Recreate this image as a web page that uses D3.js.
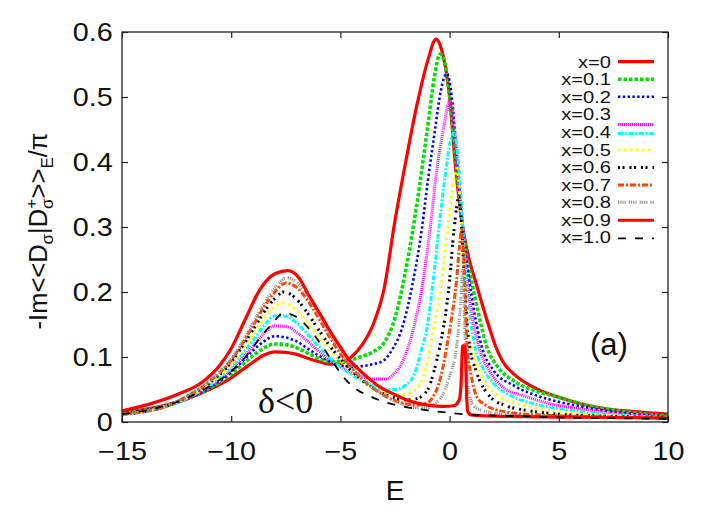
<!DOCTYPE html>
<html><head><meta charset="utf-8">
<script src="https://cdn.jsdelivr.net/npm/d3@7"></script>
<style>body{margin:0;background:#fff} svg{display:block}</style>
</head><body>
<svg id="c" width="706" height="524"></svg>
<script>
const xTicks=[-15,-10,-5,0,5,10];
const yTicks=[0,0.1,0.2,0.3,0.4,0.5,0.6];
const yTickLabels=["0","0.1","0.2","0.3","0.4","0.5","0.6"];
const seriesNames=["x=0","x=0.1","x=0.2","x=0.3","x=0.4","x=0.5","x=0.6","x=0.7","x=0.8","x=0.9","x=1.0"];

const s00=[[-15,.014],[-13,.026],[-12,.036],[-11,.05],[-10,.068],[-9.5,.08],[-9,.092],[-8.5,.103],[-8,.108],[-7.5,.107],[-7,.104],[-6.5,.098],[-6,.093],[-5.5,.089],[-5,.09],[-4.5,.1],[-4,.119],[-3.5,.15],[-3,.205],[-2.5,.31],[-2,.402],[-1.5,.487],[-1,.556],[-0.62,.589],[-0.36,.572],[0,.5],[0.25,.4],[0.6,.3],[0.9,.25],[1.2,.215],[1.5,.18],[1.85,.142],[2.1,.117],[2.4,.095],[3,.072],[4,.051],[5,.038],[6,.028],[7,.021],[8.5,.016],[10,.012]];
const s01=[[-15,.013],[-13,.025],[-12,.036],[-11,.052],[-10,.074],[-9.5,.088],[-9,.102],[-8.5,.114],[-8,.12],[-7.5,.119],[-7,.114],[-6.5,.106],[-6,.098],[-5.5,.093],[-5,.093],[-4.5,.096],[-4,.101],[-3.5,.108],[-3,.122],[-2.5,.16],[-2,.235],[-1.5,.335],[-1,.455],[-0.7,.53],[-0.44,.566],[-0.2,.55],[0,.5],[0.3,.4],[0.6,.3],[0.8,.25],[1,.218],[1.3,.17],[1.7,.116],[2.2,.085],[3,.062],[4,.047],[4.9,.039],[6,.028],[7,.021],[8.5,.014],[10,.009]];
const s02=[[-15,.013],[-13,.025],[-12,.036],[-11,.053],[-10,.077],[-9.5,.093],[-9,.11],[-8.5,.124],[-8,.132],[-7.5,.13],[-7,.124],[-6.5,.113],[-6,.102],[-5.5,.093],[-5,.087],[-4.5,.085],[-4,.086],[-3.5,.089],[-3,.095],[-2.6,.113],[-2.2,.142],[-1.7,.212],[-1.28,.295],[-1,.37],[-0.67,.449],[-0.4,.51],[-0.13,.536],[0.1,.5],[0.3,.42],[0.6,.3],[0.9,.218],[1.1,.175],[1.47,.116],[2,.08],[3,.055],[4.14,.039],[5,.031],[6,.024],[7,.018],[8.5,.012],[10,.008]];
const s03=[[-15,.012],[-13,.024],[-12,.036],[-11,.054],[-10,.08],[-9.5,.098],[-9,.117],[-8.5,.136],[-8,.148],[-7.5,.147],[-7,.138],[-6.5,.124],[-6,.109],[-5.5,.096],[-5,.085],[-4.5,.076],[-4,.07],[-3.5,.066],[-3,.066],[-2.6,.072],[-2.2,.09],[-1.67,.1415],[-1.3,.2],[-0.9,.295],[-0.6,.385],[-0.29,.449],[0.02,.495],[0.2,.46],[0.4,.38],[0.6,.3],[0.8,.218],[1,.17],[1.33,.116],[1.8,.08],[2.5,.052],[3.5,.039],[4.5,.029],[6,.02],[8,.012],[10,.008]];
const s04=[[-15,.012],[-13,.024],[-12,.037],[-11,.056],[-10,.084],[-9.5,.104],[-9,.125],[-8.5,.148],[-8,.163],[-7.5,.163],[-7,.152],[-6.5,.135],[-6,.116],[-5.5,.099],[-5,.085],[-4.5,.073],[-4,.063],[-3.5,.056],[-3,.051],[-2.5,.05],[-2,.057],[-1.6,.075],[-1.25,.116],[-1.05,.1415],[-0.75,.218],[-0.5,.295],[-0.2,.38],[0.02,.43],[0.2,.445],[0.4,.4],[0.55,.33],[0.75,.218],[0.95,.16],[1.16,.116],[1.5,.085],[2,.06],[2.9,.039],[4,.027],[5.5,.018],[7.5,.011],[10,.007]];
const s05=[[-15,.012],[-13,.024],[-12,.038],[-11,.058],[-10,.088],[-9.5,.11],[-9,.134],[-8.5,.159],[-8,.177],[-7.7,.183],[-7.2,.177],[-6.7,.16],[-6,.132],[-5.5,.112],[-5,.094],[-4.5,.078],[-4,.064],[-3.5,.054],[-3,.046],[-2.5,.042],[-2,.043],[-1.5,.052],[-1.1,.08],[-0.75,.1415],[-0.35,.218],[-0.1,.295],[0.1,.35],[0.34,.39],[0.5,.33],[0.7,.218],[0.85,.15],[1,.116],[1.3,.085],[1.7,.058],[2.3,.039],[3,.029],[4,.021],[6,.013],[8,.009],[10,.007]];
const s06=[[-15,.012],[-13,.024],[-12,.039],[-11,.06],[-10,.092],[-9.5,.116],[-9,.142],[-8.5,.169],[-8,.19],[-7.6,.2],[-7.1,.192],[-6.6,.172],[-6,.142],[-5.5,.118],[-5,.097],[-4.5,.079],[-4,.064],[-3.5,.052],[-3,.043],[-2.5,.037],[-2,.034],[-1.5,.036],[-1,.05],[-0.7,.08],[-0.45,.116],[-0.3,.1415],[0,.218],[0.2,.295],[0.43,.346],[0.55,.3],[0.68,.218],[0.8,.15],[0.92,.116],[1.2,.08],[1.85,.039],[2.5,.026],[3.5,.018],[5,.012],[7,.009],[10,.007]];
const s07=[[-15,.012],[-13,.024],[-12,.04],[-11,.062],[-10,.095],[-9.5,.12],[-9,.148],[-8.5,.177],[-8,.2],[-7.5,.214],[-7,.207],[-6.5,.187],[-6,.16],[-5.5,.131],[-5,.105],[-4.5,.084],[-4,.066],[-3.5,.052],[-3,.041],[-2.5,.033],[-2,.028],[-1.5,.026],[-1,.03],[-0.75,.039],[-0.4,.07],[-0.13,.116],[0.09,.16],[0.32,.218],[0.45,.27],[0.55,.295],[0.65,.25],[0.8,.116],[1,.07],[1.24,.039],[1.6,.027],[2.5,.016],[4,.011],[7,.008],[10,.006]];
const s08=[[-15,.012],[-13,.024],[-12,.04],[-11,.063],[-10,.097],[-9.5,.123],[-9,.152],[-8.5,.182],[-8,.206],[-7.45,.222],[-7,.215],[-6.5,.195],[-6,.167],[-5.5,.137],[-5,.11],[-4.5,.087],[-4,.068],[-3.5,.053],[-3,.041],[-2.5,.032],[-2,.026],[-1.5,.022],[-1,.022],[-0.6,.03],[-0.36,.039],[0,.07],[0.32,.116],[0.5,.18],[0.6,.234],[0.67,.17],[0.72,.116],[0.82,.065],[0.93,.039],[1.2,.022],[2,.014],[4,.009],[7,.007],[10,.006]];
const s09=[[-15,.017],[-13.6,.029],[-12.5,.042],[-11.3,.062],[-10.5,.088],[-10,.113],[-9.3,.162],[-8.7,.203],[-8,.228],[-7.4,.233],[-6.9,.222],[-6.5,.198],[-6,.17],[-5.6,.147],[-5,.115],[-4.7,.1],[-4.2,.082],[-3.8,.07],[-3.2,.054],[-2.5,.042],[-1.7,.031],[-1,.026],[-0.3,.024],[0.2,.025],[0.43,.033],[0.52,.055],[0.57,.1],[0.6,.117],[0.7,.117],[0.74,.09],[0.78,.04],[0.84,.015],[1,.011],[2,.009],[4,.008],[7,.007],[10,.006]];
const s10=[[-15,.012],[-13,.025],[-12,.037],[-11,.055],[-10,.078],[-9.4,.098],[-9,.115],[-8.5,.137],[-8.1,.152],[-7.6,.168],[-7.1,.163],[-6.7,.153],[-6.3,.138],[-5.9,.12],[-5.3,.09],[-4.7,.063],[-4.2,.049],[-3.6,.039],[-3,.031],[-2,.023],[-1,.018],[0,.014],[1,.011],[2,.01],[3.4,.009],[5,.007],[7,.006],[10,.005]];
const seriesData=[s00,s01,s02,s03,s04,s05,s06,s07,s08,s09,s10];

const styles=[
 {c:"#ff0000",w:3.2,d:null},
 {c:"#00e000",w:3.6,d:"3.5,2"},
 {c:"#0000ff",w:2.6,d:"2.4,2.4"},
 {c:"#ff00ff",w:3,d:"1,1"},
 {c:"#00ffff",w:3,d:"5,1.8,1.8,1.8"},
 {c:"#ffff00",w:3,d:"2.5,3.5"},
 {c:"#000000",w:3,d:"2,2.5,2,5"},
 {c:"#ff4500",w:3,d:"6,2,2,2"},
 {c:"#909090",w:3,d:"1.2,1,1.2,1,1.2,1,1.2,3"},
 {c:"#ff0000",w:3.2,d:null},
 {c:"#000000",w:1.8,d:"8,9"}
];
const legendSampleShift=[0,0,0,10,1.5,0.5,0.5,0.5,0,0.5,1];

const svg=d3.select("#c");
const L=122,R=668,T=32,B=422;
const x=d3.scaleLinear().domain([-15,10]).range([L,R]);
const y=d3.scaleLinear().domain([0,0.6]).range([B,T]);
const FONT="'Liberation Sans', Arial, Helvetica, sans-serif";

svg.append("defs").append("clipPath").attr("id","clip")
  .append("rect").attr("x",L).attr("y",T).attr("width",R-L).attr("height",B-T);

const line=d3.line().x(d=>x(d[0])).y(d=>y(d[1])).curve(d3.curveMonotoneX);
const g=svg.append("g").attr("clip-path","url(#clip)");
seriesData.forEach((s,i)=>{
  g.append("path").datum(s).attr("d",line).attr("fill","none")
   .attr("stroke",styles[i].c).attr("stroke-width",styles[i].w)
   .attr("stroke-dasharray",styles[i].d).attr("stroke-linejoin","round");
});

// axes
const axB=svg.append("g").attr("transform",`translate(0,${B})`)
  .call(d3.axisBottom(x).tickValues(xTicks).tickSize(-6).tickPadding(20).tickFormat(d3.format("d")));
const axT=svg.append("g").attr("transform",`translate(0,${T})`)
  .call(d3.axisTop(x).tickValues(xTicks).tickSize(-6).tickFormat(""));
const axL=svg.append("g").attr("transform",`translate(${L},0)`)
  .call(d3.axisLeft(y).tickValues(yTicks).tickSize(-6).tickPadding(8).tickFormat((d,i)=>yTickLabels[i]));
const axR=svg.append("g").attr("transform",`translate(${R},0)`)
  .call(d3.axisRight(y).tickValues(yTicks).tickSize(-6).tickFormat(""));
[axB,axT,axL,axR].forEach(a=>{
  a.select(".domain").remove();
  a.selectAll(".tick line").attr("stroke","#222").attr("stroke-width",1.2);
  a.selectAll("text").attr("font-family",FONT).attr("font-size",25).attr("fill","#111");
});
axB.selectAll("text").attr("transform","scale(1.15,1)");
axL.selectAll("text").attr("transform","scale(1.15,1)");

svg.append("rect").attr("x",L).attr("y",T).attr("width",R-L).attr("height",B-T)
  .attr("fill","none").attr("stroke","#222").attr("stroke-width",1.3);

// axis titles
svg.append("text").attr("x",395).attr("y",500).attr("text-anchor","middle")
  .attr("font-family",FONT).attr("font-size",28).attr("fill","#111").text("E");

const yl=svg.append("text").attr("transform","translate(47,231) rotate(-90)")
  .attr("text-anchor","middle").attr("font-family",FONT).attr("font-size",25.5).attr("fill","#111");
yl.append("tspan").text("-Im<<D");
yl.append("tspan").attr("font-size",17).attr("dy",6).text("σ");
yl.append("tspan").attr("dy",-6).text("|D");
yl.append("tspan").attr("font-size",17).attr("dy",-10).text("+");
yl.append("tspan").attr("font-size",17).attr("dx",-10).attr("dy",16).text("σ");
yl.append("tspan").attr("dy",-6).text(">>");
yl.append("tspan").attr("font-size",17).attr("dy",6).text("E");
yl.append("tspan").attr("dy",-6).text("/π");

// annotations
svg.append("text").attr("x",590).attr("y",355).attr("font-family",FONT)
  .attr("font-size",31).attr("fill","#111").text("(a)");
svg.append("text").attr("x",258).attr("y",413).attr("font-family","'Liberation Serif','Times New Roman',serif")
  .attr("font-size",36).attr("fill","#111").text("δ<0");

// legend
const lg=svg.append("g");
seriesNames.forEach((n,i)=>{
  const yy=61.7+i*17.56;
  lg.append("text").attr("transform",`translate(611,${yy+6}) scale(1.22,1)`)
    .attr("text-anchor","end").attr("font-family",FONT).attr("font-size",16.5).attr("fill","#111").text(n);
  const ys=yy+legendSampleShift[i];
  lg.append("line").attr("x1",618).attr("x2",654).attr("y1",ys).attr("y2",ys)
    .attr("stroke",styles[i].c).attr("stroke-width",styles[i].w).attr("stroke-dasharray",styles[i].d);
});
</script>
</body></html>
